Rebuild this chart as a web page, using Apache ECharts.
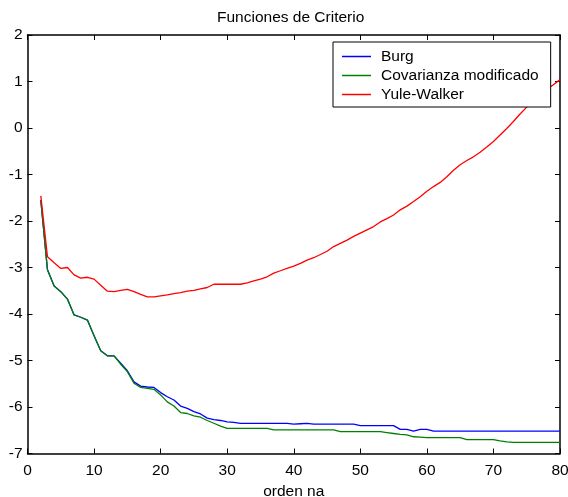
<!DOCTYPE html>
<html>
<head>
<meta charset="utf-8">
<script src="https://cdn.jsdelivr.net/npm/echarts@6/dist/echarts.min.js"></script>
<style>
  html, body { margin: 0; padding: 0; background: #fff; }
  #chart { width: 568px; height: 497px; }
</style>
</head>
<body>
<div id="chart"></div>
<script>
// Model order (na) on the horizontal axis
const orders = [];
for (let na = 2; na <= 80; na++) orders.push(na);

const xTicks = [0, 10, 20, 30, 40, 50, 60, 70, 80];
const yTicks = [-7, -6, -5, -4, -3, -2, -1, 0, 1, 2];

const seriesNames = ['Burg', 'Covarianza modificado', 'Yule-Walker'];

// Criterion values for na = 2 .. 80
const burg = [
  -1.55, -3.05, -3.40, -3.52, -3.68, -4.02, -4.07, -4.13, -4.47, -4.79,
  -4.90, -4.90, -5.06, -5.22, -5.46, -5.55, -5.57, -5.58, -5.69, -5.78,
  -5.85, -5.98, -6.03, -6.10, -6.15, -6.24, -6.27, -6.29, -6.32, -6.33,
  -6.35, -6.35, -6.35, -6.35, -6.35, -6.35, -6.35, -6.35, -6.37, -6.36,
  -6.35, -6.37, -6.37, -6.37, -6.37, -6.37, -6.37, -6.37, -6.40, -6.40,
  -6.40, -6.40, -6.40, -6.40, -6.48, -6.48, -6.52, -6.48, -6.48, -6.52,
  -6.52, -6.52, -6.52, -6.52, -6.52, -6.52, -6.52, -6.52, -6.52, -6.52,
  -6.52, -6.52, -6.52, -6.52, -6.52, -6.52, -6.52, -6.52, -6.52
];

const covarianza = [
  -1.55, -3.05, -3.40, -3.52, -3.68, -4.02, -4.07, -4.13, -4.47, -4.79,
  -4.90, -4.90, -5.08, -5.24, -5.49, -5.58, -5.60, -5.62, -5.74, -5.89,
  -5.98, -6.12, -6.14, -6.19, -6.22, -6.29, -6.35, -6.41, -6.46, -6.46,
  -6.46, -6.46, -6.46, -6.46, -6.46, -6.49, -6.49, -6.49, -6.49, -6.49,
  -6.49, -6.49, -6.49, -6.49, -6.49, -6.53, -6.53, -6.53, -6.53, -6.53,
  -6.53, -6.53, -6.55, -6.57, -6.59, -6.60, -6.64, -6.65, -6.66, -6.66,
  -6.66, -6.66, -6.66, -6.66, -6.70, -6.70, -6.70, -6.70, -6.70, -6.73,
  -6.75, -6.76, -6.76, -6.76, -6.76, -6.76, -6.76, -6.76, -6.76
];

const yuleWalker = [
  -1.46, -2.77, -2.90, -3.02, -3.00, -3.16, -3.23, -3.21, -3.25, -3.38,
  -3.51, -3.52, -3.49, -3.47, -3.52, -3.58, -3.63, -3.63, -3.61, -3.59,
  -3.56, -3.54, -3.51, -3.49, -3.46, -3.43, -3.36, -3.36, -3.36, -3.36,
  -3.36, -3.33, -3.29, -3.25, -3.20, -3.12, -3.07, -3.02, -2.97, -2.91,
  -2.84, -2.79, -2.72, -2.65, -2.55, -2.48, -2.41, -2.33, -2.26, -2.19,
  -2.12, -2.02, -1.95, -1.87, -1.76, -1.68, -1.58, -1.48, -1.36, -1.26,
  -1.17, -1.05, -0.91, -0.79, -0.70, -0.62, -0.52, -0.41, -0.29, -0.15,
  -0.01, 0.14, 0.30, 0.45, 0.59, 0.72, 0.83, 0.93, 1.04
];

const colors = ['#0000ff', '#008000', '#ff0000'];
const FONT = "'Liberation Sans', Arial, sans-serif";
const FS = 15.5;

function pairs(values) {
  return orders.map((na, i) => [na, values[i]]);
}

const tickStyle = { show: true, inside: true, length: 5, lineStyle: { color: '#000', width: 1 } };
const lineStyleAxis = { show: true, onZero: false, lineStyle: { color: '#000', width: 1.5 } };

const chart = echarts.init(document.getElementById('chart'), null, { renderer: 'canvas' });

chart.setOption({
  animation: false,
  backgroundColor: '#fff',
  textStyle: { fontFamily: FONT },
  title: {
    text: 'Funciones de Criterio',
    left: 217,
    top: 10,
    padding: 0,
    textStyle: { fontFamily: FONT, fontSize: FS, fontWeight: 'normal', color: '#000' }
  },
  legend: {
    data: seriesNames.map(n => ({ name: n, icon: 'rect' })),
    orient: 'vertical',
    left: 333,
    top: 42,
    padding: [5, 12, 3, 9],
    itemGap: 0,
    itemWidth: 29,
    itemHeight: 1.5,
    borderColor: '#000',
    borderWidth: 1,
    backgroundColor: '#fff',
    selectedMode: false,
    textStyle: { fontFamily: FONT, fontSize: FS, color: '#000', lineHeight: 19, padding: [0, 0, 0, 5] }
  },
  grid: { left: 27.5, right: 8, top: 35, bottom: 43.5, containLabel: false, outerBoundsMode: 'none' },
  xAxis: [
    {
      type: 'value', position: 'bottom',
      min: xTicks[0], max: xTicks[xTicks.length - 1], interval: 10,
      name: 'orden na', nameLocation: 'middle', nameGap: 29,
      nameTextStyle: { fontFamily: FONT, fontSize: FS, color: '#000' },
      axisLine: lineStyleAxis, axisTick: tickStyle,
      axisLabel: { color: '#000', fontFamily: FONT, fontSize: FS, margin: 9 },
      splitLine: { show: false }
    },
    {
      type: 'value', position: 'top',
      min: xTicks[0], max: xTicks[xTicks.length - 1], interval: 10,
      axisLine: lineStyleAxis, axisTick: tickStyle,
      axisLabel: { show: false }, splitLine: { show: false }
    }
  ],
  yAxis: [
    {
      type: 'value', position: 'left',
      min: yTicks[0], max: yTicks[yTicks.length - 1], interval: 1,
      axisLine: lineStyleAxis, axisTick: tickStyle,
      axisLabel: { color: '#000', fontFamily: FONT, fontSize: FS, margin: 5 },
      splitLine: { show: false }
    },
    {
      type: 'value', position: 'right',
      min: yTicks[0], max: yTicks[yTicks.length - 1], interval: 1,
      axisLine: lineStyleAxis, axisTick: tickStyle,
      axisLabel: { show: false }, splitLine: { show: false }
    }
  ],
  series: [
    { name: seriesNames[0], data: pairs(burg) },
    { name: seriesNames[1], data: pairs(covarianza) },
    { name: seriesNames[2], data: pairs(yuleWalker) }
  ].map((s, i) => ({
    type: 'line',
    name: s.name,
    data: s.data,
    xAxisIndex: 0,
    yAxisIndex: 0,
    showSymbol: false,
    symbol: 'none',
    color: colors[i],
    lineStyle: { color: colors[i], width: 1.3 },
    emphasis: { disabled: true }
  }))
});
</script>
</body>
</html>
